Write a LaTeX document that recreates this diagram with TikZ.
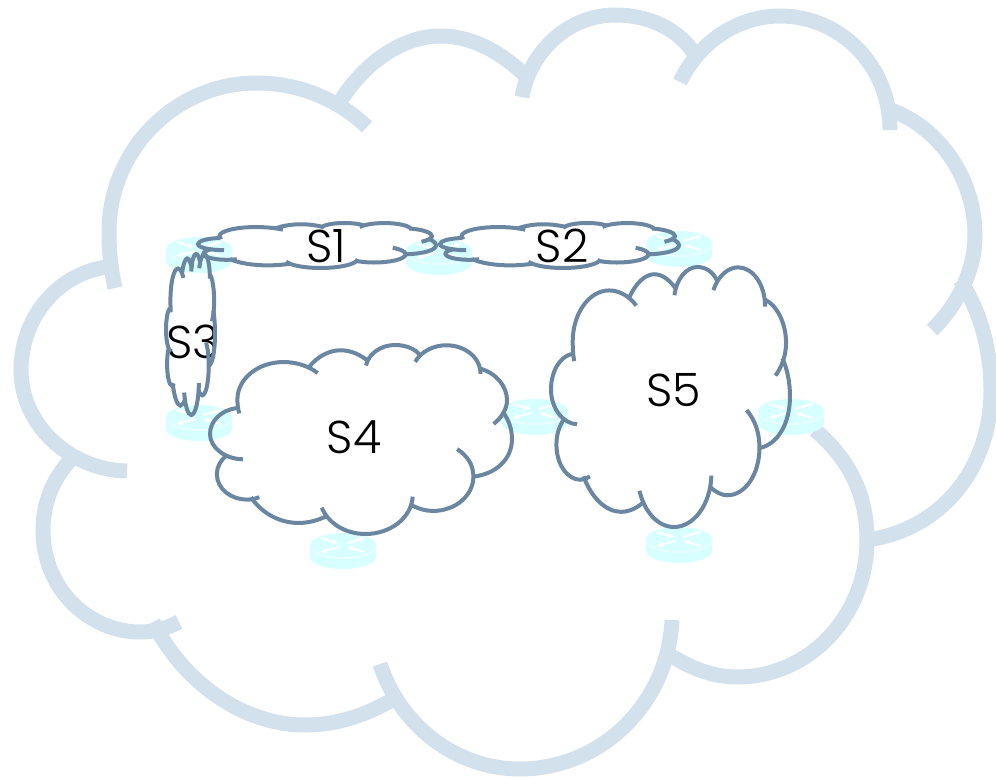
\documentclass[tikz,border=0pt]{standalone}
\usepackage{fontspec}
\setmainfont{Poppins}[UprightFont=* Light]
\usetikzlibrary{arrows.meta}
\definecolor{bigline}{HTML}{D3E1EC}
\definecolor{smallline}{HTML}{6A86A0}
\definecolor{routerc}{HTML}{D8FFFF}
\newcommand{\lobeset}[1]{%
 \draw[#1] (367,127) .. controls (338,99) and (298,83) .. (257,83) .. controls (175,83) and (109,150) .. (109,232) .. controls (109,252) and (111,270) .. (115,288);
 \draw[#1] (106,267) .. controls (55,275) and (21,320) .. (21,370) .. controls (21,425) and (70,470) .. (127,471);
 \draw[#1] (75,455) .. controls (55,475) and (43,500) .. (43,530) .. controls (43,590) and (90,632) .. (140,632) .. controls (155,632) and (167,628) .. (179,622);
 \draw[#1] (153,622) .. controls (185,685) and (245,725) .. (305,725) .. controls (340,725) and (372,713) .. (400,695);
 \draw[#1] (380,664) .. controls (400,725) and (455,769) .. (520,769) .. controls (600,769) and (668,705) .. (672,620);
 \draw[#1] (665,652) .. controls (690,668) and (712,677) .. (737,677) .. controls (810,677) and (867,615) .. (867,540) .. controls (867,495) and (850,460) .. (815,430);
 \draw[#1] (867,540) .. controls (940,530) and (991,470) .. (991,390) .. controls (991,350) and (980,310) .. (960,280);
 \draw[#1] (885,108) .. controls (940,125) and (975,180) .. (975,235) .. controls (975,270) and (958,305) .. (932,330);
 \draw[#1] (680,82) .. controls (700,40) and (740,16) .. (780,16) .. controls (840,16) and (890,65) .. (890,130);
 \draw[#1] (522,97) .. controls (530,50) and (570,15) .. (615,15) .. controls (650,15) and (680,30) .. (695,55);
 \draw[#1] (338,105) .. controls (365,60) and (405,36) .. (440,36) .. controls (475,36) and (505,55) .. (530,80);
}
% arguments: left, top, right, bottom, node name, label, label x, label y
\newcommand{\netcloud}[8]{%
 \pgfmathsetmacro{\sx}{(#3-#1)/970}
 \pgfmathsetmacro{\sy}{(#4-#2)/754}
 \node[labeltext] (#5) at (#7,#8) {#6};
 \begin{scope}[shift={(#1,#2)},xscale=\sx,yscale=\sy,shift={(-21,-15)}]
  \lobeset{smallstroke}
 \end{scope}
}
\tikzset{
 bigstroke/.style={draw=bigline,line width=15pt},
 smallstroke/.style={draw=smallline,line width=4pt},
 labeltext/.style={font=\fontsize{46}{46}\selectfont,text=black,inner sep=0pt},
 routerarrow/.style={draw=white,line width=2pt,-{Stealth[length=6pt,width=7pt]}},
 pics/router/.style={code={
  \fill[routerc] (-33,-6) -- (-33,6) arc[x radius=33,y radius=12,start angle=180,end angle=0] -- (33,-6) -- cycle;
  \fill[white!45!routerc] (-33,-6) arc[x radius=33,y radius=12,start angle=180,end angle=0] -- (33,-4) arc[x radius=33,y radius=12,start angle=0,end angle=180] -- cycle;
  \fill[routerc] (0,-6) ellipse[x radius=33,y radius=12];
  \draw[routerarrow] (-4,-4) -- (-22,1);
  \draw[routerarrow] (4,-8) -- (22,-13);
  \draw[routerarrow] (-22,-13) -- (-5,-8);
  \draw[routerarrow] (22,1) -- (5,-4);
 }}
}
\begin{document}
\begin{tikzpicture}[x=1pt,y=-1pt]
\useasboundingbox (0,0) rectangle (996,778);
\clip (0,0) rectangle (996,778);
\lobeset{bigstroke}
\pic at (199,255) {router};
\pic at (439,257) {router};
\pic at (679,249) {router};
\pic at (199,423) {router};
\pic at (535,417) {router};
\pic at (791,417) {router};
\pic at (343,551) {router};
\pic at (679,545) {router};
\netcloud{198}{223}{436}{268}{s1}{S1}{326}{246}
\netcloud{440}{223}{679}{268}{s2}{S2}{562}{246}
\netcloud{166}{254}{215}{415}{s3}{S3}{193}{342}
\netcloud{210}{345}{512}{534}{s4}{S4}{354}{437}
\netcloud{551}{267}{790}{527}{s5}{S5}{674}{390}
\end{tikzpicture}
\end{document}
